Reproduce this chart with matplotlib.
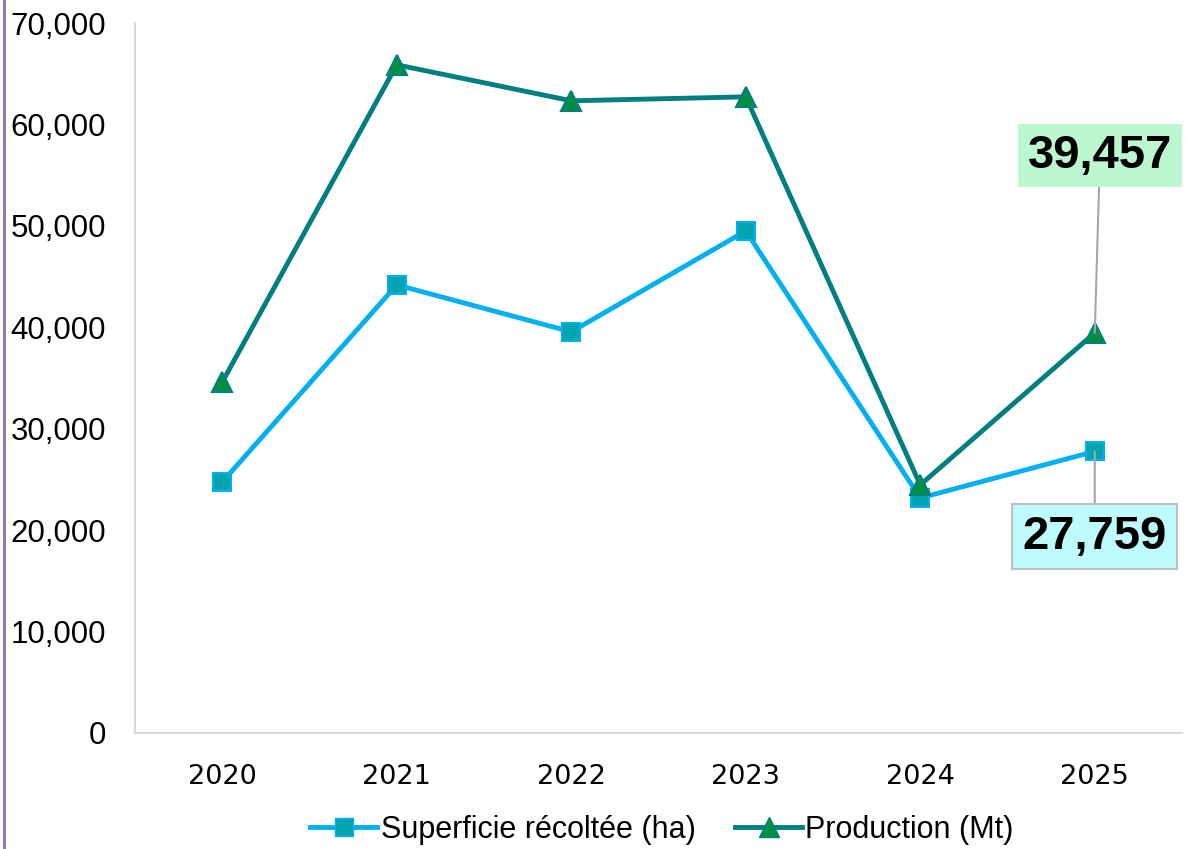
import matplotlib.pyplot as plt
import matplotlib.lines as mlines

years = ["2020", "2021", "2022", "2023", "2024", "2025"]
superficie = [24750, 44180, 39550, 49500, 23170, 27759]
production = [34600, 65880, 62330, 62720, 24460, 39457]

plt.rcParams['font.family'] = ['Liberation Sans', 'DejaVu Sans']

fig = plt.figure(figsize=(11.85, 8.49), dpi=100)
ax = fig.add_axes([135 / 1185, 1 - 733 / 849, (1182 - 135) / 1185, (733 - 23) / 849])

x = list(range(len(years)))
ax.plot(x, superficie, color='#00B0F0', lw=3.5, marker='s', ms=13,
        mfc='#00A5B0', mec='#00B0F0', mew=1.5, zorder=3)
ax.plot(x, production, color='#007F80', lw=3.5, marker='^', ms=14,
        mfc='#009040', mec='#007F80', mew=1.5, zorder=3)

ax.set_xlim(-0.5, 5.5)
ax.set_ylim(0, 70000)
ax.set_yticks(range(0, 70001, 10000))
ax.set_yticklabels([f"{v:,}" for v in range(0, 70001, 10000)], fontsize=22.5)
ax.set_xticks(x)
ax.set_xticklabels(years, fontsize=19.5)
for t in ax.get_xticklabels():
    t.set_fontfamily('DejaVu Sans')
ax.tick_params(axis='both', length=0)
ax.tick_params(axis='y', pad=21)
ax.tick_params(axis='x', pad=22)
for s in ['top', 'right']:
    ax.spines[s].set_visible(False)
ax.spines['left'].set_color('#D9D9D9')
ax.spines['bottom'].set_color('#D9D9D9')
ax.spines['left'].set_linewidth(1.5)
ax.spines['bottom'].set_linewidth(1.5)

# data labels for last point
ax.annotate(f"{production[-1]:,}", xy=(5, production[-1]), xytext=(5.03, 56900),
            fontsize=34, fontweight='bold', ha='center', va='center',
            bbox=dict(boxstyle='square,pad=0.2', fc='#BDF7D0', ec='none'),
            arrowprops=dict(arrowstyle='-', color='#A6A6A6', lw=1.5, shrinkA=0, shrinkB=0),
            zorder=4)
ax.annotate(f"{superficie[-1]:,}", xy=(5, superficie[-1]), xytext=(5.0, 19350),
            fontsize=34, fontweight='bold', ha='center', va='center',
            bbox=dict(boxstyle='square,pad=0.22', fc='#BDFBFD', ec='#BFBFBF', lw=1.5),
            arrowprops=dict(arrowstyle='-', color='#A6A6A6', lw=1.5, shrinkA=0, shrinkB=0),
            zorder=4)

h1 = mlines.Line2D([], [], color='#00B0F0', lw=3.5, marker='s', ms=13,
                   mfc='#00A5B0', mec='#00B0F0')
h2 = mlines.Line2D([], [], color='#007F80', lw=3.5, marker='^', ms=14,
                   mfc='#009040', mec='#007F80')
fig.legend([h1, h2], ["Superficie récoltée (ha)", "Production (Mt)"],
           loc='center', bbox_to_anchor=(662 / 1185, 1 - 830 / 849), ncol=2,
           frameon=False, fontsize=22, handlelength=2.2, handletextpad=0.1,
           columnspacing=1.3)

fig.add_artist(mlines.Line2D([4 / 1185, 4 / 1185], [0, 1], color='#9B6BA8', lw=2))

fig.savefig('out.png', dpi=100)
